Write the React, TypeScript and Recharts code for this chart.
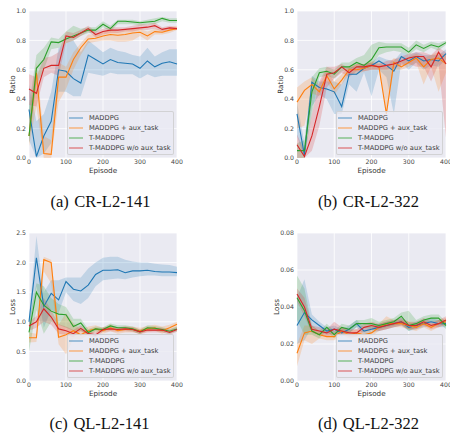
import React from "react";
import { Area, CartesianGrid, ComposedChart, Label, Legend, Line, XAxis, YAxis } from "recharts";

const episodes = [0, 20, 40, 60, 80, 100, 120, 140, 160, 180, 200, 220, 240, 260, 280, 300, 320, 340, 360, 380, 400];
const seriesNames = ["MADDPG", "MADDPG + aux_task", "T-MADDPG", "T-MADDPG w/o aux_task"];
const xTicks = [0, 100, 200, 300, 400];
const ratioTicks = [0, 0.2, 0.4, 0.6, 0.8, 1.0];
const lossTicks141 = [0, 0.5, 1.0, 1.5, 2.0, 2.5];
const lossTicks322 = [0, 0.02, 0.04, 0.06, 0.08];

// (a) CR-L2-141
const crA_maddpg = [0.33, 0.01, 0.15, 0.25, 0.60, 0.59, 0.54, 0.51, 0.70, 0.67, 0.64, 0.67, 0.65, 0.645, 0.64, 0.61, 0.66, 0.62, 0.645, 0.655, 0.64];
const crA_maddpg_lo = [0.12, 0.0, 0.03, 0.10, 0.45, 0.45, 0.42, 0.42, 0.58, 0.57, 0.56, 0.58, 0.57, 0.57, 0.57, 0.54, 0.57, 0.55, 0.56, 0.56, 0.56];
const crA_maddpg_hi = [0.50, 0.25, 0.30, 0.45, 0.75, 0.78, 0.80, 0.72, 0.80, 0.76, 0.72, 0.75, 0.73, 0.72, 0.70, 0.69, 0.75, 0.69, 0.72, 0.74, 0.74];
const crA_aux = [0.15, 0.58, 0.03, 0.025, 0.55, 0.55, 0.67, 0.75, 0.81, 0.815, 0.83, 0.84, 0.835, 0.84, 0.85, 0.855, 0.83, 0.86, 0.855, 0.87, 0.88];
const crA_aux_lo = [0.08, 0.35, 0.0, 0.0, 0.38, 0.47, 0.60, 0.70, 0.78, 0.79, 0.80, 0.80, 0.79, 0.79, 0.80, 0.83, 0.80, 0.84, 0.84, 0.85, 0.87];
const crA_aux_hi = [0.30, 0.65, 0.15, 0.12, 0.65, 0.62, 0.72, 0.78, 0.84, 0.84, 0.86, 0.87, 0.86, 0.87, 0.88, 0.88, 0.86, 0.88, 0.87, 0.89, 0.90];
const crA_t = [0.15, 0.61, 0.67, 0.79, 0.785, 0.81, 0.83, 0.85, 0.87, 0.87, 0.91, 0.88, 0.93, 0.93, 0.925, 0.92, 0.925, 0.93, 0.95, 0.935, 0.935];
const crA_t_lo = [0.10, 0.50, 0.60, 0.74, 0.75, 0.78, 0.80, 0.83, 0.85, 0.85, 0.89, 0.86, 0.91, 0.91, 0.91, 0.90, 0.91, 0.91, 0.93, 0.92, 0.92];
const crA_t_hi = [0.35, 0.70, 0.75, 0.82, 0.81, 0.86, 0.90, 0.88, 0.89, 0.89, 0.93, 0.90, 0.94, 0.94, 0.94, 0.93, 0.94, 0.95, 0.96, 0.95, 0.95];
const crA_tNoAux = [0.47, 0.44, 0.61, 0.63, 0.63, 0.83, 0.82, 0.85, 0.88, 0.84, 0.86, 0.87, 0.87, 0.875, 0.88, 0.885, 0.89, 0.90, 0.875, 0.885, 0.88];
const crA_tNoAux_lo = [0.36, 0.35, 0.55, 0.58, 0.56, 0.78, 0.80, 0.83, 0.86, 0.82, 0.84, 0.85, 0.85, 0.86, 0.86, 0.87, 0.87, 0.88, 0.86, 0.87, 0.87];
const crA_tNoAux_hi = [0.57, 0.55, 0.68, 0.69, 0.72, 0.86, 0.85, 0.87, 0.90, 0.86, 0.88, 0.89, 0.89, 0.89, 0.90, 0.91, 0.91, 0.92, 0.89, 0.90, 0.89];

// (b) CR-L2-322
const crB_maddpg = [0.30, 0.02, 0.515, 0.48, 0.47, 0.45, 0.35, 0.57, 0.57, 0.61, 0.63, 0.66, 0.63, 0.59, 0.69, 0.66, 0.69, 0.66, 0.67, 0.66, 0.71];
const crB_maddpg_lo = [0.15, 0.0, 0.35, 0.43, 0.40, 0.30, 0.30, 0.50, 0.45, 0.58, 0.42, 0.60, 0.55, 0.30, 0.65, 0.60, 0.65, 0.60, 0.63, 0.62, 0.67];
const crB_maddpg_hi = [0.38, 0.10, 0.56, 0.52, 0.52, 0.52, 0.50, 0.62, 0.62, 0.64, 0.65, 0.69, 0.67, 0.66, 0.72, 0.70, 0.72, 0.70, 0.70, 0.70, 0.74];
const crB_aux = [0.38, 0.46, 0.50, 0.45, 0.56, 0.47, 0.53, 0.60, 0.60, 0.61, 0.63, 0.62, 0.30, 0.65, 0.62, 0.65, 0.68, 0.62, 0.67, 0.68, 0.64];
const crB_aux_lo = [0.20, 0.22, 0.44, 0.42, 0.52, 0.43, 0.50, 0.57, 0.57, 0.59, 0.60, 0.60, 0.30, 0.60, 0.60, 0.62, 0.65, 0.50, 0.62, 0.45, 0.58];
const crB_aux_hi = [0.48, 0.52, 0.55, 0.50, 0.60, 0.52, 0.57, 0.63, 0.64, 0.64, 0.66, 0.65, 0.62, 0.68, 0.66, 0.69, 0.71, 0.68, 0.70, 0.72, 0.70];
const crB_t = [0.05, 0.05, 0.45, 0.58, 0.59, 0.57, 0.62, 0.62, 0.65, 0.63, 0.67, 0.75, 0.755, 0.755, 0.755, 0.72, 0.77, 0.745, 0.77, 0.755, 0.785];
const crB_t_lo = [0.0, 0.0, 0.30, 0.55, 0.56, 0.54, 0.59, 0.60, 0.62, 0.61, 0.63, 0.70, 0.72, 0.73, 0.72, 0.70, 0.74, 0.72, 0.75, 0.73, 0.77];
const crB_t_hi = [0.10, 0.12, 0.55, 0.61, 0.62, 0.60, 0.65, 0.65, 0.68, 0.70, 0.77, 0.79, 0.78, 0.78, 0.78, 0.75, 0.80, 0.77, 0.79, 0.78, 0.80];
const crB_tNoAux = [0.09, 0.01, 0.15, 0.35, 0.57, 0.58, 0.62, 0.58, 0.62, 0.62, 0.63, 0.62, 0.63, 0.64, 0.66, 0.68, 0.69, 0.69, 0.62, 0.72, 0.64];
const crB_tNoAux_lo = [0.0, 0.0, 0.05, 0.22, 0.48, 0.54, 0.58, 0.55, 0.59, 0.59, 0.60, 0.60, 0.60, 0.61, 0.63, 0.64, 0.62, 0.62, 0.52, 0.64, 0.14];
const crB_tNoAux_hi = [0.16, 0.05, 0.30, 0.52, 0.62, 0.62, 0.64, 0.61, 0.64, 0.64, 0.65, 0.64, 0.66, 0.67, 0.69, 0.71, 0.72, 0.72, 0.70, 0.75, 0.72];

// (c) QL-L2-141
const qlA_maddpg = [1.0, 2.08, 1.26, 1.48, 1.37, 1.68, 1.55, 1.52, 1.62, 1.80, 1.87, 1.87, 1.88, 1.83, 1.86, 1.86, 1.87, 1.85, 1.84, 1.84, 1.83];
const qlA_maddpg_lo = [0.85, 1.60, 0.90, 1.20, 1.15, 1.50, 1.35, 1.30, 1.40, 1.60, 1.70, 1.72, 1.73, 1.72, 1.75, 1.77, 1.78, 1.78, 1.77, 1.77, 1.77];
const qlA_maddpg_hi = [1.10, 2.45, 1.50, 1.70, 1.70, 1.75, 1.75, 1.75, 1.90, 2.00, 2.08, 2.10, 2.10, 2.05, 2.02, 2.00, 2.00, 1.98, 1.97, 1.96, 1.93];
const qlA_aux = [0.73, 0.73, 2.05, 2.0, 0.74, 0.78, 0.85, 0.78, 0.85, 0.88, 0.85, 0.90, 0.85, 0.87, 0.87, 0.85, 0.88, 0.90, 0.85, 0.90, 0.96];
const qlA_aux_lo = [0.65, 0.66, 1.85, 1.65, 0.62, 0.45, 0.72, 0.70, 0.78, 0.82, 0.80, 0.84, 0.80, 0.82, 0.82, 0.80, 0.83, 0.85, 0.80, 0.85, 0.90];
const qlA_aux_hi = [0.82, 0.80, 2.10, 2.05, 0.95, 1.15, 0.98, 0.86, 0.92, 0.94, 0.90, 0.96, 0.90, 0.92, 0.92, 0.90, 0.93, 0.95, 0.92, 0.95, 1.00];
const qlA_t = [0.82, 1.5, 1.28, 1.18, 1.13, 1.12, 0.92, 0.98, 0.82, 0.88, 0.87, 0.93, 0.90, 0.90, 0.88, 0.83, 0.90, 0.89, 0.87, 0.84, 0.88];
const qlA_t_lo = [0.50, 1.20, 0.80, 1.00, 0.95, 0.90, 0.85, 0.85, 0.78, 0.84, 0.83, 0.89, 0.86, 0.86, 0.84, 0.79, 0.86, 0.85, 0.83, 0.80, 0.84];
const qlA_t_hi = [1.00, 1.65, 1.60, 1.40, 1.30, 1.25, 1.05, 1.05, 0.88, 0.92, 0.91, 0.97, 0.94, 0.94, 0.92, 0.87, 0.94, 0.93, 0.91, 0.88, 0.92];
const qlA_tNoAux = [0.93, 1.0, 1.22, 1.08, 0.88, 0.85, 0.80, 0.89, 0.80, 0.78, 0.87, 0.88, 0.87, 0.88, 0.87, 0.83, 0.86, 0.86, 0.86, 0.82, 0.87];
const qlA_tNoAux_lo = [0.85, 0.90, 1.00, 0.95, 0.80, 0.78, 0.74, 0.84, 0.76, 0.74, 0.83, 0.84, 0.83, 0.84, 0.83, 0.79, 0.82, 0.82, 0.82, 0.78, 0.83];
const qlA_tNoAux_hi = [1.00, 1.10, 1.40, 1.20, 0.96, 0.92, 0.86, 0.94, 0.84, 0.82, 0.91, 0.92, 0.91, 0.92, 0.91, 0.87, 0.90, 0.90, 0.90, 0.86, 0.91];

// (d) QL-L2-322
const qlB_maddpg = [0.030, 0.037, 0.033, 0.030, 0.027, 0.028, 0.026, 0.028, 0.031, 0.027, 0.028, 0.029, 0.030, 0.031, 0.032, 0.029, 0.030, 0.031, 0.032, 0.031, 0.031];
const qlB_maddpg_lo = [0.020, 0.022, 0.029, 0.027, 0.025, 0.026, 0.024, 0.026, 0.029, 0.025, 0.026, 0.027, 0.028, 0.029, 0.030, 0.027, 0.028, 0.029, 0.030, 0.029, 0.029];
const qlB_maddpg_hi = [0.045, 0.055, 0.036, 0.032, 0.029, 0.030, 0.028, 0.030, 0.033, 0.029, 0.030, 0.031, 0.032, 0.033, 0.034, 0.031, 0.032, 0.033, 0.034, 0.033, 0.033];
const qlB_aux = [0.015, 0.026, 0.027, 0.025, 0.024, 0.024, 0.027, 0.025, 0.026, 0.025, 0.026, 0.029, 0.031, 0.031, 0.031, 0.030, 0.029, 0.031, 0.029, 0.031, 0.032];
const qlB_aux_lo = [0.008, 0.022, 0.020, 0.023, 0.022, 0.022, 0.025, 0.023, 0.024, 0.023, 0.024, 0.027, 0.028, 0.029, 0.029, 0.028, 0.027, 0.029, 0.027, 0.029, 0.030];
const qlB_aux_hi = [0.020, 0.030, 0.030, 0.027, 0.026, 0.026, 0.029, 0.027, 0.028, 0.027, 0.028, 0.031, 0.035, 0.033, 0.033, 0.032, 0.031, 0.033, 0.031, 0.033, 0.034];
const qlB_t = [0.045, 0.038, 0.027, 0.025, 0.029, 0.025, 0.029, 0.028, 0.031, 0.031, 0.031, 0.030, 0.031, 0.032, 0.035, 0.030, 0.031, 0.033, 0.034, 0.034, 0.030];
const qlB_t_lo = [0.033, 0.025, 0.025, 0.023, 0.027, 0.023, 0.027, 0.026, 0.029, 0.029, 0.028, 0.028, 0.029, 0.030, 0.031, 0.027, 0.029, 0.031, 0.032, 0.032, 0.028];
const qlB_t_hi = [0.057, 0.050, 0.030, 0.027, 0.031, 0.027, 0.031, 0.030, 0.033, 0.033, 0.034, 0.032, 0.033, 0.034, 0.037, 0.038, 0.033, 0.035, 0.036, 0.036, 0.032];
const qlB_tNoAux = [0.047, 0.040, 0.028, 0.027, 0.026, 0.028, 0.027, 0.026, 0.026, 0.029, 0.030, 0.029, 0.030, 0.031, 0.032, 0.030, 0.030, 0.032, 0.030, 0.031, 0.033];
const qlB_tNoAux_lo = [0.043, 0.035, 0.026, 0.025, 0.024, 0.025, 0.025, 0.024, 0.024, 0.027, 0.028, 0.027, 0.028, 0.029, 0.030, 0.028, 0.028, 0.030, 0.028, 0.029, 0.031];
const qlB_tNoAux_hi = [0.050, 0.045, 0.030, 0.029, 0.028, 0.032, 0.029, 0.028, 0.028, 0.031, 0.032, 0.031, 0.032, 0.033, 0.034, 0.032, 0.032, 0.034, 0.032, 0.033, 0.035];

const COLORS = ["#1f77b4", "#ff7f0e", "#2ca02c", "#d62728"];
const FONT = "'DejaVu Sans', sans-serif";

type Band = { mean: number[]; lo: number[]; hi: number[] };

function buildRows(series: Band[]) {
  return episodes.map((ep, i) => {
    const row: any = { ep };
    series.forEach((s, k) => {
      row["m" + k] = s.mean[i];
      row["b" + k] = [s.lo[i], s.hi[i]];
    });
    return row;
  });
}

const rowsA = buildRows([
  { mean: crA_maddpg, lo: crA_maddpg_lo, hi: crA_maddpg_hi },
  { mean: crA_aux, lo: crA_aux_lo, hi: crA_aux_hi },
  { mean: crA_t, lo: crA_t_lo, hi: crA_t_hi },
  { mean: crA_tNoAux, lo: crA_tNoAux_lo, hi: crA_tNoAux_hi },
]);
const rowsB = buildRows([
  { mean: crB_maddpg, lo: crB_maddpg_lo, hi: crB_maddpg_hi },
  { mean: crB_aux, lo: crB_aux_lo, hi: crB_aux_hi },
  { mean: crB_t, lo: crB_t_lo, hi: crB_t_hi },
  { mean: crB_tNoAux, lo: crB_tNoAux_lo, hi: crB_tNoAux_hi },
]);
const rowsC = buildRows([
  { mean: qlA_maddpg, lo: qlA_maddpg_lo, hi: qlA_maddpg_hi },
  { mean: qlA_aux, lo: qlA_aux_lo, hi: qlA_aux_hi },
  { mean: qlA_t, lo: qlA_t_lo, hi: qlA_t_hi },
  { mean: qlA_tNoAux, lo: qlA_tNoAux_lo, hi: qlA_tNoAux_hi },
]);
const rowsD = buildRows([
  { mean: qlB_maddpg, lo: qlB_maddpg_lo, hi: qlB_maddpg_hi },
  { mean: qlB_aux, lo: qlB_aux_lo, hi: qlB_aux_hi },
  { mean: qlB_t, lo: qlB_t_lo, hi: qlB_t_hi },
  { mean: qlB_tNoAux, lo: qlB_tNoAux_lo, hi: qlB_tNoAux_hi },
]);

function LegendBox(props: any) {
  const items = (props.payload || []).filter((e: any) => e.type !== "none");
  return (
    <div
      style={{
        background: "rgba(234,234,242,0.8)",
        border: "1px solid rgba(204,204,204,0.8)",
        borderRadius: 2,
        padding: "1px 0",
        boxSizing: "border-box",
        height: 44,
        fontFamily: FONT,
      }}
    >
      {items.map((e: any) => (
        <div key={e.value} style={{ display: "flex", alignItems: "center", height: 10 }}>
          <svg width={21} height={10} style={{ flex: "none" }}>
            <line x1={1} x2={15} y1={5} y2={5} stroke={e.color} strokeWidth={1.4} opacity={0.55} />
          </svg>
          <span style={{ fontSize: 6.7, color: "#3a3a3a", whiteSpace: "nowrap", lineHeight: "10px" }}>{e.value}</span>
        </div>
      ))}
    </div>
  );
}

const Y_W = 30;
const M_TOP = 8;
const M_RIGHT = 8;
const X_H = 24;

function Panel(props: {
  px: number; py: number; pw: number; ph: number;
  rows: any[]; yDomain: [number, number]; yTicks: number[]; digits: number;
  yLabel: string; yLabelOffset: number;
}) {
  const { px, py, pw, ph, rows, yDomain, yTicks, digits, yLabel, yLabelOffset } = props;
  const W = Y_W + pw + M_RIGHT;
  const H = M_TOP + ph + X_H;
  const tick = { fontSize: 6.2, fill: "#444", fontFamily: FONT };
  return (
    <div style={{ position: "absolute", left: px - Y_W, top: py - M_TOP }}>
      <ComposedChart width={W} height={H} data={rows} margin={{ top: M_TOP, right: M_RIGHT, left: 0, bottom: 0 }}>
        <CartesianGrid fill="#EAEAF2" stroke="#ffffff" strokeWidth={0.8} />
        <XAxis
          dataKey="ep"
          type="number"
          domain={[0, 400]}
          ticks={xTicks}
          height={X_H}
          axisLine={false}
          tickLine={false}
          tickSize={0}
          tickMargin={2}
          tick={tick}
          interval={0}
        >
          <Label value="Episode" position="insideBottom" offset={9.5} fontSize={7.2} fill="#333" fontFamily={FONT} />
        </XAxis>
        <YAxis
          type="number"
          domain={yDomain}
          ticks={yTicks}
          width={Y_W}
          axisLine={false}
          tickLine={false}
          tickSize={0}
          tickMargin={3}
          tick={tick}
          interval={0}
          allowDataOverflow
          tickFormatter={(v: number) => v.toFixed(digits)}
        >
          <Label
            value={yLabel}
            angle={-90}
            position="insideLeft"
            offset={yLabelOffset}
            fontSize={7.2}
            fill="#333"
            fontFamily={FONT}
            style={{ textAnchor: "middle" }}
          />
        </YAxis>
        {seriesNames.map((name, k) => (
          <React.Fragment key={name}>
            <Area
              dataKey={"b" + k}
              type="linear"
              stroke="none"
              fill={COLORS[k]}
              fillOpacity={0.2}
              legendType="none"
              isAnimationActive={false}
              activeDot={false}
            />
            <Line
              dataKey={"m" + k}
              name={name}
              type="linear"
              stroke={COLORS[k]}
              strokeWidth={1.1}
              dot={false}
              activeDot={false}
              isAnimationActive={false}
            />
          </React.Fragment>
        ))}
        <Legend
          layout="vertical"
          align="center"
          verticalAlign="middle"
          content={<LegendBox />}
          wrapperStyle={{
            left: Y_W + pw - 3 - 107,
            top: M_TOP + ph - 3.5 - 44,
            width: 107,
            height: 44,
            right: "auto",
            bottom: "auto",
          }}
        />
      </ComposedChart>
    </div>
  );
}

function Caption({ cx, top, tag, text }: { cx: number; top: number; tag: string; text: string }) {
  return (
    <div
      style={{
        position: "absolute",
        left: cx - 90,
        width: 180,
        top,
        textAlign: "center",
        fontFamily: "'Liberation Serif', serif",
        fontSize: 16.5,
        lineHeight: "16.5px",
        color: "#111",
        whiteSpace: "nowrap",
      }}
    >
      <span>{tag}</span>
      <span style={{ marginLeft: 5.5 }}>{text}</span>
    </div>
  );
}

export default function App() {
  return (
    <div
      style={{
        position: "absolute",
        left: 0,
        top: 0,
        width: 450,
        height: 436,
        overflow: "hidden",
        background: "#ffffff",
      }}
    >
      <Panel px={29} py={11} pw={148} ph={147} rows={rowsA} yDomain={[0, 1]} yTicks={ratioTicks} digits={1} yLabel="Ratio" yLabelOffset={13} />
      <Panel px={297} py={11} pw={149} ph={147} rows={rowsB} yDomain={[0, 1]} yTicks={ratioTicks} digits={1} yLabel="Ratio" yLabelOffset={13} />
      <Panel px={29} py={233} pw={148} ph={148} rows={rowsC} yDomain={[0, 2.5]} yTicks={lossTicks141} digits={1} yLabel="Loss" yLabelOffset={13} />
      <Panel px={297} py={233} pw={149} ph={148} rows={rowsD} yDomain={[0, 0.08]} yTicks={lossTicks322} digits={2} yLabel="Loss" yLabelOffset={9} />
      <Caption cx={100.5} top={193.5} tag="(a)" text="CR-L2-141" />
      <Caption cx={368.5} top={193.5} tag="(b)" text="CR-L2-322" />
      <Caption cx={99.5} top={416} tag="(c)" text="QL-L2-141" />
      <Caption cx={368.5} top={416} tag="(d)" text="QL-L2-322" />
    </div>
  );
}
